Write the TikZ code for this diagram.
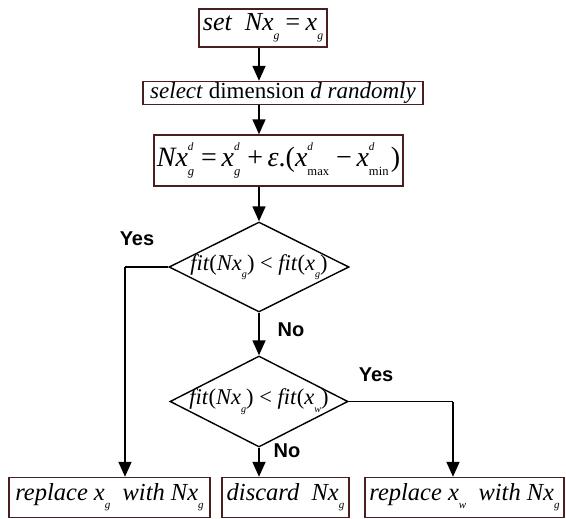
\documentclass[tikz,border=0pt]{standalone}
\usepackage{fontspec}
\setmainfont{Liberation Serif}
\newfontfamily\lblfont{Liberation Sans}
\usepackage{graphicx}
\usetikzlibrary{shapes.geometric,arrows.meta}
\definecolor{boxbrown}{HTML}{4A1F1F}
\newcommand\lsub[1]{\raisebox{-0.34em}{\scalebox{0.45}{#1}}}
\newcommand\lsup[1]{\raisebox{0.58em}{\scalebox{0.4}{#1}}}
\newcommand\lsupsub[2]{\rlap{\lsup{#1}}\lsub{#2}\hspace{0.08em}}
\begin{document}
\begin{tikzpicture}[x=1pt,y=-1pt,
  box/.style={draw=boxbrown, line width=1.4pt, inner sep=0pt, fill=white,
    font=\fontsize{23}{25}\selectfont},
  dia/.style={diamond, draw=black, line width=1.4pt, inner sep=0pt},
  diatext/.style={font=\fontsize{22.5}{24}\selectfont, inner sep=0pt},
  arr/.style={line width=1.6pt, -{Triangle[width=13pt,length=15pt]}},
  conn/.style={line width=1.6pt},
  lbl/.style={font=\lblfont\bfseries\fontsize{20}{20}\selectfont, inner sep=0pt},
  bottomtext/.style={font=\fontsize{24.5}{26}\selectfont}]
\useasboundingbox (0,0) rectangle (566,519);
% boxes
\node[box, minimum width=128pt, minimum height=38pt, font=\fontsize{26}{28}\selectfont] (b1) at (263,28)
  {\textit{set\ \ Nx\lsub{g}\,=\,x\lsub{g}}};
\node[box, minimum width=280pt, minimum height=23pt] (b2) at (283,93)
  {\textit{select} dimension \textit{d randomly}};
\node[box, minimum width=249pt, minimum height=51pt, font=\fontsize{28}{30}\selectfont] (b3) at (278.5,160.5)
  {\textit{Nx}\lsupsub{\textit{d}}{\textit{g}}\,=\,\textit{x}\lsupsub{\textit{d}}{\textit{g}}\,+\,\textit{ε}.(\textit{x}\lsupsub{\textit{d}}{max}\,−\,\textit{x}\lsupsub{\textit{d}}{min})};
% diamonds
\node[dia, minimum width=180pt, minimum height=90pt] (d1) at (259,267) {};
\node[diatext] (t1) at (d1.center) {\textit{fit}(\textit{Nx}\lsub{\textit{g}}) < \textit{fit}(\textit{x}\lsub{\textit{g}})};
\node[dia, minimum width=178pt, minimum height=91pt] (d2) at (259,401.5) {};
\node[diatext] (t2) at (d2.center) {\textit{fit}(\textit{Nx}\lsub{\textit{g}}) < \textit{fit}(\textit{x}\lsub{\textit{w}})};
% bottom boxes
\node[box, bottomtext, minimum width=201pt, minimum height=40pt] (b4) at (109.5,497.5)
  {\textit{replace x\lsub{g}\ \ with Nx\lsub{g}}};
\node[box, bottomtext, minimum width=127pt, minimum height=40pt] (b5) at (285.5,497.5)
  {\textit{discard\ \ Nx\lsub{g}}};
\node[box, bottomtext, minimum width=199pt, minimum height=40pt] (b6) at (464.5,497.5)
  {\textit{replace x\lsub{w}\ \ with Nx\lsub{g}}};
% connector corners
\coordinate (c1) at (125,267);
\coordinate (c2) at (453,401.5);
% connectors
\draw[arr] (b1.south -| d1.north) -- (b2.north -| d1.north);
\draw[arr] (b2.south -| d1.north) -- (b3.north -| d1.north);
\draw[arr] (b3.south -| d1.north) -- (d1.north);
\draw[arr] (d1.south) -- (d2.north);
\draw[conn] (d1.west) -- (c1);
\draw[arr] (c1) -- (c1 |- b4.north);
\draw[conn] (d2.east) -- (c2);
\draw[arr] (c2) -- (c2 |- b6.north);
\draw[arr] (d2.south) -- (d2.south |- b5.north);
% labels
\node[lbl] (y1) at (137,239) {Yes};
\node[lbl] (n1) at (291,330) {No};
\node[lbl] (y2) at (376,375) {Yes};
\node[lbl] (n2) at (287,451) {No};
\end{tikzpicture}
\end{document}
